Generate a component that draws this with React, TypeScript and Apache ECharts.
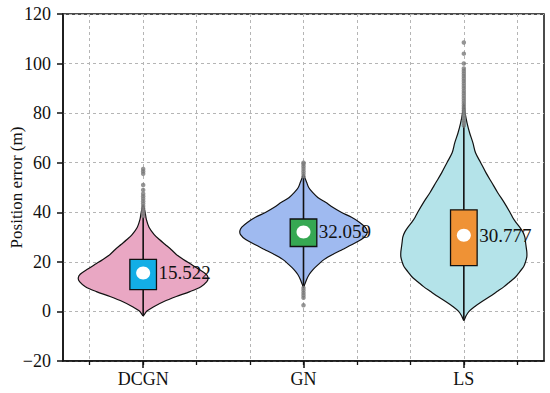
import React, { useEffect, useRef } from 'react';
import * as echarts from 'echarts';

// ---------- data ----------
const CATEGORIES = ['DCGN', 'GN', 'LS'];
// helper slots for the 9 vertical grid lines / minor ticks (labels hidden)
const GRID_SLOTS = ['s0', 's1', 's2', 's3', 's4', 's5', 's6', 's7', 's8', 's9', 's10', 's11', 's12', 's13', 's14', 's15', 's16', 's17', 's18'];

const Y_MIN = -20;
const Y_MAX = 120;
const Y_STEP = 20;
const Y_NAME = 'Position error (m)';

// violin outlines: value levels and relative density (half-width)
const DCGN_LEVELS = [-1.8, 0, 2, 4, 6, 8, 10, 12, 13.5, 15, 17, 19, 21, 23, 25, 27, 29, 31, 34, 37, 40, 43];
const DCGN_DENSITY = [0, 0.05, 0.17, 0.32, 0.51, 0.72, 0.89, 0.98, 1.0, 0.97, 0.86, 0.74, 0.62, 0.51, 0.43, 0.34, 0.25, 0.17, 0.09, 0.05, 0.03, 0];

const GN_LEVELS = [9.5, 11, 13, 15, 17, 19, 21, 23, 25, 27, 29, 31, 32.5, 34, 36, 38, 40, 42, 44, 46, 48, 50, 52, 54, 55.5];
const GN_DENSITY = [0, 0.02, 0.05, 0.09, 0.15, 0.23, 0.32, 0.45, 0.6, 0.75, 0.89, 0.97, 0.98, 0.95, 0.86, 0.74, 0.58, 0.45, 0.34, 0.22, 0.14, 0.08, 0.05, 0.02, 0];

const LS_LEVELS = [-3.6, -2, 0, 2, 4, 6, 8, 10, 12, 14, 16, 18, 20, 22, 24, 26, 28, 30, 32, 34, 36, 38, 40, 44, 48, 52, 56, 60, 64, 68, 72, 76, 80, 84];
const LS_DENSITY = [0, 0.03, 0.08, 0.17, 0.28, 0.4, 0.51, 0.62, 0.71, 0.8, 0.86, 0.92, 0.95, 0.97, 0.97, 0.96, 0.95, 0.94, 0.91, 0.86, 0.8, 0.75, 0.71, 0.62, 0.52, 0.43, 0.34, 0.26, 0.18, 0.14, 0.09, 0.05, 0.02, 0];

// box statistics
const LOWER_WHISKER = [-1.8, 10, -3.6];
const Q1 = [8.8, 26.2, 18.5];
const MEDIAN = [15.522, 32.059, 30.777];
const Q3 = [21.0, 37.3, 41.0];
const UPPER_WHISKER = [38, 54, 75];

// outlier points
const DCGN_OUTLIERS = [38.5, 39.5, 40.5, 41.5, 42.5, 43.5, 44.5, 45.5, 46.5, 47.5, 49, 51, 55.5, 56.5, 57.5];
const GN_OUTLIERS = [2.5, 5.5, 6.5, 7.5, 8.5, 9.5, 54.5, 55.5, 56.5, 57.5, 58.5, 59.5, 60];
const LS_OUTLIERS = [75, 76, 77, 78, 79, 80, 81, 82, 83, 84, 85, 86, 87, 88, 89, 90, 91, 92, 93, 94, 95, 96, 97, 98, 100, 104, 108.5];

// ---------- styles ----------
const VIOLIN_COLORS = ['#E9A7C3', '#9FBAF0', '#B4E3E9'];
const BOX_COLORS = ['#13AEE6', '#36A852', '#EF9235'];
const FONT = 'Liberation Serif';
const INK = '#111';

export default function App() {
  const ref = useRef<HTMLDivElement>(null);

  useEffect(() => {
    if (!ref.current) return;
    const chart = echarts.init(ref.current, undefined, { renderer: 'svg' });

    const levels = [DCGN_LEVELS, GN_LEVELS, LS_LEVELS];
    const density = [DCGN_DENSITY, GN_DENSITY, LS_DENSITY];
    const outliers = [DCGN_OUTLIERS, GN_OUTLIERS, LS_OUTLIERS];

    const customData = CATEGORIES.map((_, i) => [i, LOWER_WHISKER[i], Q1[i], MEDIAN[i], Q3[i], UPPER_WHISKER[i]]);
    const outlierData: number[][] = [];
    outliers.forEach((arr, i) => arr.forEach((v) => outlierData.push([i, v])));

    const renderItem = (params: any, api: any) => {
      const i = params.dataIndex;
      const cx = api.coord([i, MEDIAN[i]])[0];
      const band = api.size([1, 0])[0];
      const half = band * 0.405;
      const bw = band * 0.083;
      const lv = levels[i];
      const dn = density[i];
      const left: number[][] = [];
      const right: number[][] = [];
      for (let k = 0; k < lv.length; k++) {
        const y = api.coord([i, lv[k]])[1];
        left.push([cx - dn[k] * half, y]);
        right.push([cx + dn[k] * half, y]);
      }
      const pts = left.concat(right.reverse().slice(1, -1));
      const yLow = api.coord([i, api.value(1)])[1];
      const yQ1 = api.coord([i, api.value(2)])[1];
      const yMed = api.coord([i, api.value(3)])[1];
      const yQ3 = api.coord([i, api.value(4)])[1];
      const yHigh = api.coord([i, api.value(5)])[1];
      return {
        type: 'group',
        children: [
          {
            type: 'polygon',
            shape: { points: pts, smooth: 0.3 },
            style: { fill: VIOLIN_COLORS[i], stroke: INK, lineWidth: 1.2 },
          },
          {
            type: 'line',
            shape: { x1: cx, y1: yLow, x2: cx, y2: yHigh },
            style: { stroke: INK, lineWidth: 1.6 },
          },
          {
            type: 'rect',
            shape: { x: cx - bw, y: yQ3, width: bw * 2, height: yQ1 - yQ3 },
            style: { fill: BOX_COLORS[i], stroke: INK, lineWidth: 1.3 },
          },
          {
            type: 'ellipse',
            shape: { cx: cx, cy: yMed, rx: 7, ry: 6.5 },
            style: { fill: '#ffffff' },
          },
          {
            type: 'text',
            style: {
              text: MEDIAN[i].toFixed(3),
              x: cx + bw + 2,
              y: yMed,
              fontSize: 19,
              fontFamily: FONT,
              fill: INK,
              align: 'left',
              verticalAlign: 'middle',
            },
          },
        ],
      };
    };

    const option: any = {
      animation: false,
      textStyle: { fontFamily: FONT },
      grid: {
        left: 63,
        right: 6,
        top: 14,
        bottom: 32,
        show: true,
        borderColor: INK,
        borderWidth: 1.5,
        containLabel: false,
        outerBoundsMode: 'none',
      },
      xAxis: [
        {
          type: 'category',
          data: CATEGORIES,
          position: 'bottom',
          boundaryGap: true,
          axisLine: { show: true, onZero: false, lineStyle: { color: INK, width: 1.5 } },
          axisTick: { show: true, alignWithLabel: true, length: 7, inside: false, lineStyle: { color: INK, width: 1.5 } },
          axisLabel: { show: true, interval: 0, margin: 9, fontSize: 18, fontFamily: FONT, color: INK },
          splitLine: { show: false },
        },
        {
          type: 'category',
          data: GRID_SLOTS,
          position: 'top',
          offset: -347,
          boundaryGap: false,
          axisLine: { show: false, onZero: false },
          axisTick: {
            show: true,
            inside: true,
            length: 4,
            interval: (idx: number) => idx % 2 === 1,
            lineStyle: { color: INK, width: 1.3 },
          },
          axisLabel: { show: false },
          splitLine: {
            show: true,
            interval: (idx: number) => idx % 2 === 1,
            lineStyle: { color: '#b5b5b5', width: 1, type: [3, 3] },
          },
        },
      ],
      yAxis: {
        type: 'value',
        min: Y_MIN,
        max: Y_MAX,
        interval: Y_STEP,
        name: Y_NAME,
        nameLocation: 'middle',
        nameRotate: 90,
        nameGap: 38,
        nameMoveOverlap: false,
        nameTextStyle: { fontSize: 17, fontFamily: FONT, color: INK },
        axisLine: { show: true, onZero: false, lineStyle: { color: INK, width: 1.5 } },
        axisTick: { show: true, inside: false, length: 6, lineStyle: { color: INK, width: 1.5 } },
        axisLabel: {
          margin: 12,
          fontSize: 18,
          fontFamily: FONT,
          color: INK,
          formatter: (v: number) => String(v).replace('-', '\u2212'),
        },
        splitLine: { show: true, lineStyle: { color: '#b5b5b5', width: 1, type: [3, 3] } },
      },
      series: [
        {
          type: 'custom',
          xAxisIndex: 0,
          yAxisIndex: 0,
          renderItem,
          data: customData,
          encode: { x: 0, y: [1, 2, 3, 4, 5] },
          silent: true,
        },
        {
          type: 'scatter',
          xAxisIndex: 0,
          yAxisIndex: 0,
          data: outlierData,
          symbol: 'circle',
          symbolSize: 4.5,
          itemStyle: { color: '#7a7a7a', opacity: 0.8 },
          silent: true,
        },
      ],
    };

    chart.setOption(option);
    return () => chart.dispose();
  }, []);

  return <div ref={ref} style={{ position: 'absolute', left: 0, top: 0, width: 550, height: 393 }} />;
}
